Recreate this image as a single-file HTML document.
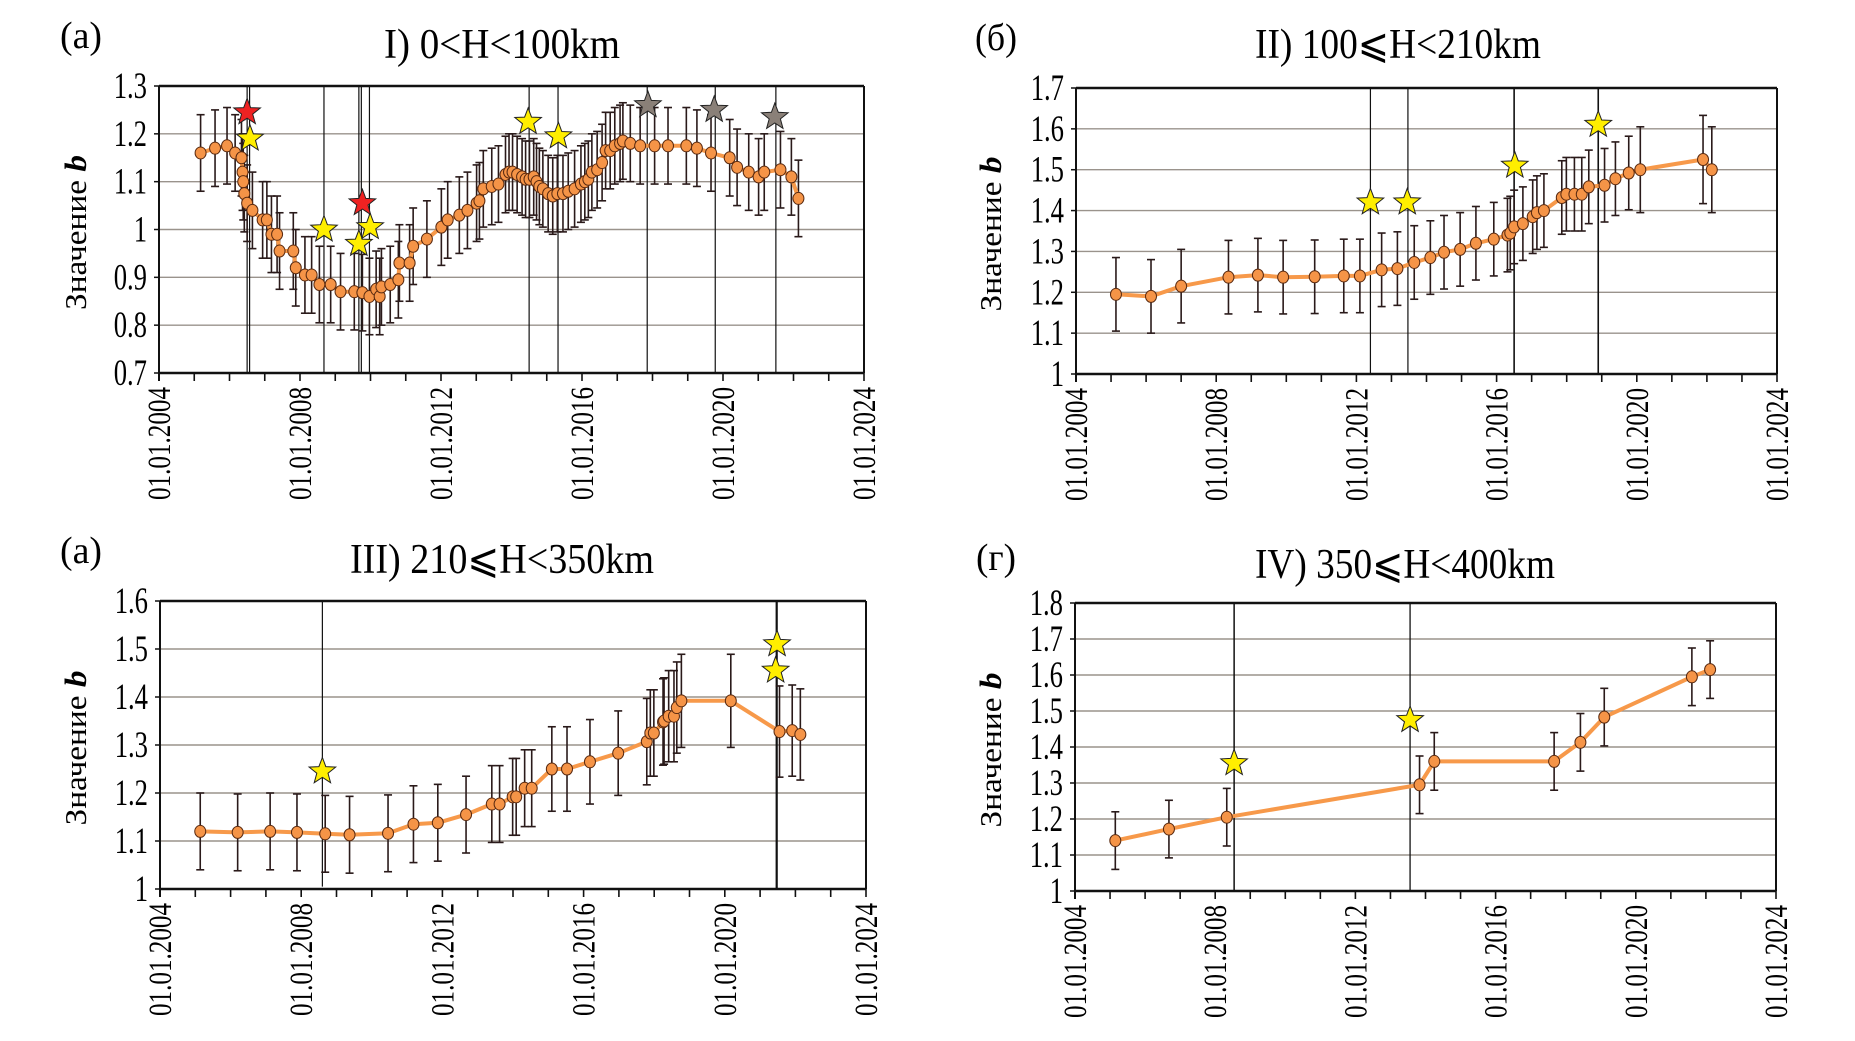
<!DOCTYPE html>
<html><head><meta charset="utf-8">
<style>
html,body{margin:0;padding:0;background:#fff;}
svg{display:block;}
</style></head>
<body>
<svg id="s" xmlns="http://www.w3.org/2000/svg" width="1855" height="1041" viewBox="0 0 1855 1041">
<rect width="1855" height="1041" fill="#fff"/>
<text x="60" y="48" font-family="Liberation Serif, serif" font-size="38" textLength="42" lengthAdjust="spacingAndGlyphs">(a)</text>
<text x="975" y="50" font-family="Liberation Serif, DejaVu Serif, serif" font-size="38" textLength="42" lengthAdjust="spacingAndGlyphs">(б)</text>
<text x="60" y="563" font-family="Liberation Serif, serif" font-size="38" textLength="42" lengthAdjust="spacingAndGlyphs">(a)</text>
<text x="976" y="570" font-family="Liberation Serif, DejaVu Serif, serif" font-size="38" textLength="40" lengthAdjust="spacingAndGlyphs">(г)</text>
<text x="384" y="58" font-family="Liberation Serif, serif" font-size="42" textLength="236" lengthAdjust="spacingAndGlyphs">I) 0&lt;H&lt;100km</text>
<text x="1255" y="58" font-family="Liberation Serif, DejaVu Serif, serif" font-size="42" textLength="286" lengthAdjust="spacingAndGlyphs">II) 100⩽H&lt;210km</text>
<text x="350" y="573" font-family="Liberation Serif, DejaVu Serif, serif" font-size="42" textLength="304" lengthAdjust="spacingAndGlyphs">III) 210⩽H&lt;350km</text>
<text x="1255" y="578" font-family="Liberation Serif, DejaVu Serif, serif" font-size="42" textLength="300" lengthAdjust="spacingAndGlyphs">IV) 350⩽H&lt;400km</text>
</svg>
<script>
var NS="http://www.w3.org/2000/svg",S=document.getElementById('s');
function el(t,a,txt){var e=document.createElementNS(NS,t);for(var k in a)e.setAttribute(k,a[k]);if(txt!=null)e.textContent=txt;S.appendChild(e);return e;}
function star(cx,cy,r,fill){var p=[];for(var i=0;i<10;i++){var rr=i%2?r*0.42:r;var a=-Math.PI/2+i*Math.PI/5;p.push((cx+rr*Math.cos(a)).toFixed(1)+','+(cy+rr*Math.sin(a)).toFixed(1));}
el('polygon',{points:p.join(' '),fill:fill,stroke:'#222','stroke-width':1});}
function panel(P){
 var L=P.L,R=P.R,T=P.T,B=P.B;
 var X=function(y){return L+(y-2004)/20*(R-L);};
 var Y=function(v){return B-(v-P.y0)/(P.y1-P.y0)*(B-T);};
 for(var v=P.y0+P.dy;v<P.y1-1e-6;v+=P.dy){var yy=Y(v);el('line',{x1:L,x2:R,y1:yy,y2:yy,stroke:'#9a938c','stroke-width':1.4});}
 P.vl.forEach(function(q){var x=X(q[0]);el('line',{x1:x,x2:x,y1:T,y2:q[1]!=null?Y(q[1]):B,stroke:'#111','stroke-width':q[2]||1.2});});
 var e=P.err;
 P.d.forEach(function(p){var x=X(p[0]),er=p[2]||e;var a=Y(p[1]+er),b=Y(p[1]-er);
  el('line',{x1:x,x2:x,y1:a,y2:b,stroke:'#2a1a1a','stroke-width':1.6});
  el('line',{x1:x-4,x2:x+4,y1:a,y2:a,stroke:'#2a1a1a','stroke-width':1.6});
  el('line',{x1:x-4,x2:x+4,y1:b,y2:b,stroke:'#2a1a1a','stroke-width':1.6});});
 el('polyline',{points:P.d.map(function(p){return X(p[0]).toFixed(1)+','+Y(p[1]).toFixed(1);}).join(' '),fill:'none',stroke:'#f7994a','stroke-width':4,'stroke-linejoin':'round'});
 P.d.forEach(function(p){el('ellipse',{cx:X(p[0]),cy:Y(p[1]),rx:5.5,ry:6,fill:'#f59447',stroke:'#5a2a10','stroke-width':1});});
 P.st.forEach(function(s){star(X(s[0]),Y(s[1]),14,s[2]||'#ffee00');});
 el('line',{x1:L,x2:R,y1:T,y2:T,stroke:'#111','stroke-width':2.5});
 el('line',{x1:L,x2:R,y1:B,y2:B,stroke:'#111','stroke-width':2.5});
 el('line',{x1:L,x2:L,y1:T,y2:B+8,stroke:'#111','stroke-width':2});
 el('line',{x1:R,x2:R,y1:T,y2:B,stroke:'#111','stroke-width':2});
 for(var v=P.y0;v<=P.y1+1e-6;v+=P.dy){var yy=Y(v);el('line',{x1:L-5,x2:L,y1:yy,y2:yy,stroke:'#111','stroke-width':1.5});
  var s=(Math.round(v*10)/10).toString();
  el('text',{transform:'translate('+(L-12)+','+(yy+12)+') scale(0.72,1)','text-anchor':'end','font-family':'Liberation Serif, serif','font-size':37},s);}
 for(var yr=2004;yr<=2024;yr++){var x=X(yr);el('line',{x1:x,x2:x,y1:B,y2:B+8,stroke:'#111','stroke-width':1.6});
  if(yr%4==0){el('text',{transform:'translate('+(x+11)+','+(B+14)+') rotate(-90)','text-anchor':'end','font-family':'Liberation Serif, serif','font-size':33,textLength:113,lengthAdjust:'spacingAndGlyphs'},'01.01.'+yr);}}
 var cy=(T+B)/2+3;
 var t=el('text',{transform:'translate('+(P.yx)+','+cy+') rotate(-90)','text-anchor':'middle','font-family':'Liberation Serif, DejaVu Serif, serif','font-size':31,textLength:155,lengthAdjust:'spacingAndGlyphs'});
 t.textContent='Значение  ';
 var ts=document.createElementNS(NS,'tspan');ts.setAttribute('font-style','italic');ts.setAttribute('font-weight','bold');ts.textContent='b';t.appendChild(ts);
}
panel({L:159,R:864,T:86,B:373,y0:0.7,y1:1.3,dy:0.1,err:0.08,yx:86,
 d:[[2005.18,1.16],[2005.59,1.17],[2005.93,1.175],[2006.16,1.16],[2006.34,1.15],[2006.37,1.12],[2006.39,1.10],[2006.42,1.075],[2006.5,1.055],[2006.65,1.04],[2006.94,1.02],[2007.06,1.02],[2007.19,0.99],[2007.35,0.99],[2007.42,0.955],[2007.81,0.955],[2007.88,0.92],[2008.14,0.905],[2008.33,0.905],[2008.55,0.885],[2008.87,0.885],[2009.15,0.87],[2009.54,0.87],[2009.77,0.868],[2009.97,0.86],[2010.16,0.875],[2010.26,0.86],[2010.31,0.88],[2010.56,0.885],[2010.79,0.895],[2010.82,0.93],[2011.11,0.93],[2011.21,0.965],[2011.6,0.98],[2012.01,1.005],[2012.19,1.02],[2012.52,1.03],[2012.75,1.04],[2013.01,1.055],[2013.09,1.06],[2013.2,1.085],[2013.44,1.09],[2013.63,1.095],[2013.83,1.115],[2013.93,1.12],[2014.03,1.12],[2014.16,1.115],[2014.3,1.11],[2014.4,1.105],[2014.51,1.105],[2014.63,1.11],[2014.71,1.10],[2014.79,1.09],[2014.89,1.085],[2015.04,1.075],[2015.17,1.07],[2015.3,1.075],[2015.46,1.075],[2015.61,1.08],[2015.79,1.085],[2015.97,1.095],[2016.08,1.10],[2016.18,1.105],[2016.28,1.12],[2016.43,1.125],[2016.57,1.14],[2016.67,1.165],[2016.8,1.165],[2016.93,1.175],[2017.08,1.18],[2017.16,1.185],[2017.37,1.18],[2017.65,1.175],[2018.06,1.175],[2018.44,1.175],[2018.96,1.175],[2019.26,1.17],[2019.66,1.16],[2020.19,1.15],[2020.4,1.13],[2020.73,1.12],[2021.01,1.11],[2021.17,1.12],[2021.63,1.125],[2021.94,1.11],[2022.14,1.065]],
 vl:[[2006.5],[2006.57],[2008.68],[2009.67],[2009.74],[2009.97],[2014.5],[2015.32],[2017.85],[2019.78],[2021.5]],
 st:[[2006.5,1.245,'#ee2222'],[2006.58,1.19],[2008.68,1.0],[2009.67,0.97],[2009.77,1.055,'#ee2222'],[2009.99,1.005],[2014.47,1.225],[2015.33,1.195],[2017.87,1.26,'#8a8078'],[2019.75,1.25,'#8a8078'],[2021.47,1.235,'#8a8078']]});
panel({L:1076,R:1777,T:88,B:374,y0:1.0,y1:1.7,dy:0.1,err:0.09,yx:1001,
 d:[[2005.14,1.195],[2006.14,1.19],[2007.0,1.215],[2008.35,1.237],[2009.19,1.242],[2009.91,1.237],[2010.81,1.238],[2011.64,1.24],[2012.1,1.24],[2012.72,1.255],[2013.17,1.258],[2013.65,1.273],[2014.11,1.285],[2014.5,1.298],[2014.96,1.305],[2015.41,1.32],[2015.92,1.33],[2016.31,1.34],[2016.39,1.345],[2016.5,1.36],[2016.75,1.368],[2017.03,1.385],[2017.15,1.395],[2017.35,1.40],[2017.86,1.432],[2017.99,1.44],[2018.22,1.44],[2018.43,1.44],[2018.63,1.458],[2019.08,1.462],[2019.39,1.478],[2019.77,1.492],[2020.1,1.50,0.105],[2021.89,1.525,0.108],[2022.14,1.50,0.105]],
 vl:[[2012.4],[2013.47],[2016.5,null,1.6],[2018.9,null,1.6]],
 st:[[2012.4,1.42],[2013.45,1.42],[2016.52,1.51],[2018.9,1.61]]});
panel({L:160,R:866,T:601,B:889,y0:1.0,y1:1.6,dy:0.1,err:0.08,yx:86,
 d:[[2005.14,1.12],[2006.2,1.118],[2007.12,1.12],[2007.88,1.118],[2008.68,1.115],[2009.37,1.113],[2010.46,1.116],[2011.18,1.135],[2011.87,1.138],[2012.67,1.155],[2013.4,1.177],[2013.62,1.177],[2013.99,1.192],[2014.09,1.192],[2014.33,1.21],[2014.53,1.21],[2015.1,1.25,0.088],[2015.53,1.25,0.088],[2016.18,1.265,0.088],[2016.98,1.283,0.088],[2017.79,1.307,0.09],[2017.89,1.325,0.09],[2017.99,1.325,0.09],[2018.25,1.348,0.09],[2018.28,1.35,0.09],[2018.41,1.36,0.095],[2018.56,1.36,0.095],[2018.64,1.378,0.095],[2018.77,1.392,0.097],[2020.17,1.392,0.097],[2021.55,1.328,0.095],[2021.91,1.33,0.095],[2022.14,1.322,0.095]],
 vl:[[2008.6,1.005],[2021.47,null,2.2]],
 st:[[2008.6,1.245],[2021.48,1.51],[2021.44,1.455]]});
panel({L:1075,R:1776,T:603,B:891,y0:1.0,y1:1.8,dy:0.1,err:0.08,yx:1001,
 d:[[2005.15,1.14],[2006.68,1.172],[2008.33,1.205],[2013.83,1.295],[2014.25,1.36],[2017.67,1.36],[2018.42,1.413],[2019.1,1.483],[2021.6,1.595],[2022.12,1.615]],
 vl:[[2008.54,null,1.5],[2013.56,null,1.3]],
 st:[[2008.54,1.355],[2013.56,1.475]]});
</script>
</body></html>
